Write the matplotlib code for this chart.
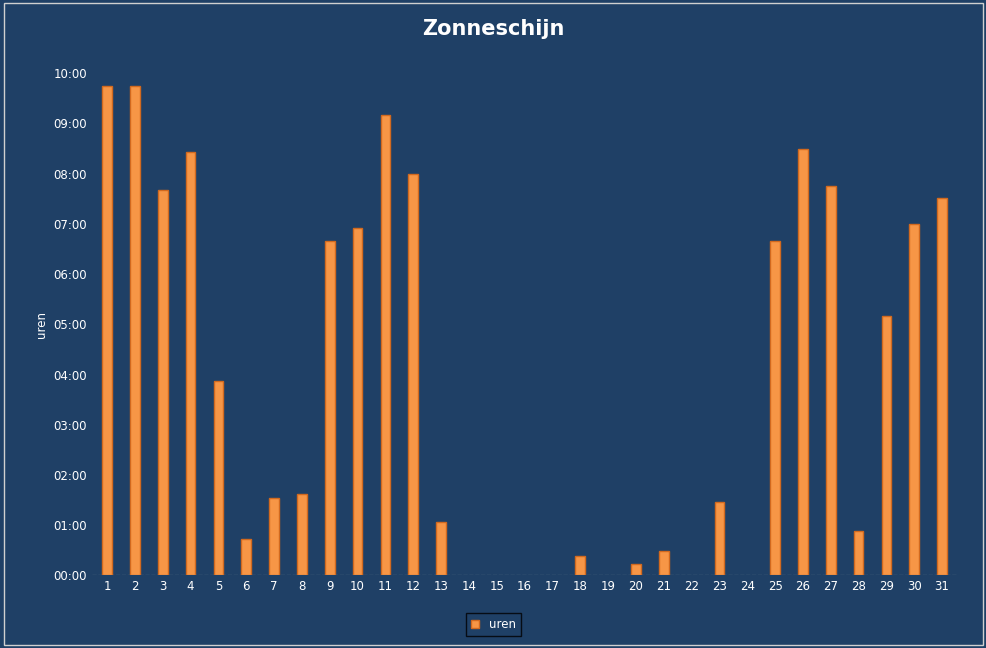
import matplotlib
matplotlib.use("Agg")
import matplotlib.pyplot as plt
from matplotlib.ticker import FuncFormatter, MultipleLocator
from matplotlib.patches import Rectangle

days = list(range(1, 32))
hours = [9.74, 9.74, 7.67, 8.43, 3.88, 0.72, 1.55, 1.63, 6.65, 6.91, 9.16, 7.99, 1.06,
         0, 0, 0, 0, 0.38, 0, 0.22, 0.48, 0, 1.47, 0, 6.65, 8.5, 7.75, 0.88, 5.16, 6.99, 7.51]

bg = "#1F4066"
fig = plt.figure(figsize=(9.87, 6.48), dpi=100, facecolor=bg)
fig.patches.append(Rectangle((0.004, 0.005), 0.992, 0.99, transform=fig.transFigure,
                             fill=False, edgecolor="#D0D0D0", lw=1))
ax = fig.add_axes([0.093, 0.112, 0.877, 0.775], facecolor=bg)
d = [x for x, h in zip(days, hours) if h > 0]
h = [h for h in hours if h > 0]
ax.bar(d, h, width=0.35, color="#F79646", edgecolor="#D2691E", linewidth=1.0, label="uren")
ax.set_xlim(0.45, 31.55)
ax.set_ylim(0, 10)
ax.yaxis.set_major_locator(MultipleLocator(1))
ax.yaxis.set_major_formatter(FuncFormatter(lambda v, p: f"{int(round(v)):02d}:00"))
ax.set_xticks(days)
ax.tick_params(colors="white", labelsize=8.5, length=0)
for s in ax.spines.values():
    s.set_visible(False)
ax.axhline(0, color="#C0C0C0", lw=0.8, ls="--")
ax.set_ylabel("uren", color="white", fontsize=8.5)
fig.suptitle("Zonneschijn", color="white", fontsize=15, fontweight="bold", y=0.97)
fig.legend(loc="lower center", bbox_to_anchor=(0.5, 0.01), fontsize=8.5,
           facecolor=bg, edgecolor="black", labelcolor="white", handlelength=0.7,
           fancybox=False)
fig.savefig("out.png", dpi=100, facecolor=bg)
